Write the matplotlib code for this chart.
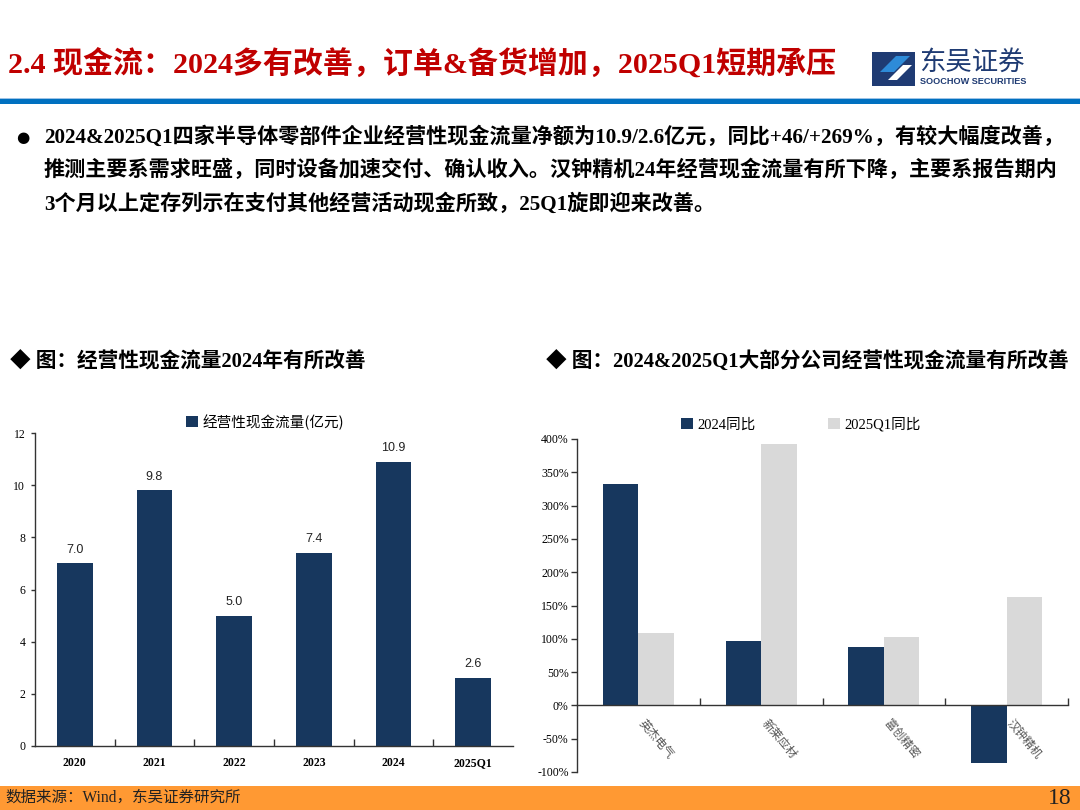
import matplotlib
matplotlib.use("Agg")
import matplotlib.pyplot as plt
from matplotlib.patches import Rectangle, Polygon
import numpy as np

# ---------------- data ----------------
years = ["2020", "2021", "2022", "2023", "2024", "2025Q1"]
cash_flow = [7.0, 9.8, 5.0, 7.4, 10.9, 2.6]

companies = ["英杰电气", "新莱应材", "富创精密", "汉钟精机"]
yoy_2024 = [332, 96, 88, -87]
yoy_2025q1 = [109, 392, 103, 163]

left_yticks = [0, 2, 4, 6, 8, 10, 12]
right_yticks = [-100, -50, 0, 50, 100, 150, 200, 250, 300, 350, 400]

NAVY = "#17375E"
GRAY = "#D9D9D9"
FAM = ["Liberation Serif", "Noto Sans CJK SC"]
CJK = ["Noto Sans CJK SC", "DejaVu Sans"]

plt.rcParams["font.family"] = FAM

W, H = 1080, 810
fig = plt.figure(figsize=(W / 100, H / 100), dpi=100)


def fx(x):
    return x / W


def fy(y):
    return 1 - y / H


# ---------------- header ----------------
fig.text(fx(8), fy(64), "2.4 现金流：2024多有改善，订单&备货增加，2025Q1短期承压",
         color="#C00000", fontsize=21.6, fontweight="bold", va="center", ha="left",
         family=FAM)

# logo
fig.patches.append(Rectangle((fx(872), fy(86)), fx(43), 34 / H, transform=fig.transFigure,
                             facecolor="#1F3B73", edgecolor="none"))
fig.patches.append(Polygon([[fx(880), fy(72)], [fx(896), fy(56)], [fx(910), fy(56)],
                            [fx(894), fy(72)]], closed=True, transform=fig.transFigure,
                           facecolor="#2E8BD8", edgecolor="none"))
fig.patches.append(Polygon([[fx(888), fy(80)], [fx(903), fy(65)], [fx(912), fy(65)],
                            [fx(897), fy(80)]], closed=True, transform=fig.transFigure,
                           facecolor="white", edgecolor="none"))
fig.text(fx(919), fy(62), "东吴证券", color="#1F3B73", fontsize=19, va="center", ha="left",
         family=CJK)
fig.text(fx(920), fy(81), "SOOCHOW SECURITIES", color="#1F3B73", fontsize=6.6,
         fontweight="bold", va="center", ha="left", family=["Liberation Sans"])

# blue rule
fig.patches.append(Rectangle((0, fy(98.5)), 1, 1 / H, transform=fig.transFigure,
                             facecolor="#9DC3E6", edgecolor="none"))
fig.patches.append(Rectangle((0, fy(104)), 1, 5 / H, transform=fig.transFigure,
                             facecolor="#0070C0", edgecolor="none"))

# body text
fig.text(fx(16), fy(137), "●", fontsize=11, va="center", ha="left", family=["DejaVu Sans"])
lines = [
    "2024&2025Q1四家半导体零部件企业经营性现金流量净额为10.9/2.6亿元，同比+46/+269%，有较大幅度改善，",
    "推测主要系需求旺盛，同时设备加速交付、确认收入。汉钟精机24年经营现金流量有所下降，主要系报告期内",
    "3个月以上定存列示在支付其他经营活动现金所致，25Q1旋即迎来改善。",
]
for i, t in enumerate(lines):
    fig.text(fx(44), fy(137 + 33.5 * i), t, fontsize=15.2, fontweight="bold",
             va="center", ha="left", family=FAM)

# subtitles
fig.text(fx(10), fy(362), "◆ 图：经营性现金流量2024年有所改善", fontsize=14.9,
         fontweight="bold", va="center", ha="left", family=FAM)
fig.text(fx(546), fy(362), "◆ 图：2024&2025Q1大部分公司经营性现金流量有所改善", fontsize=14.9,
         fontweight="bold", va="center", ha="left", family=FAM)

# footer
fig.patches.append(Rectangle((0, 0), 1, 24 / H, transform=fig.transFigure,
                             facecolor="#FF9933", edgecolor="none"))
fig.text(fx(5), fy(798), "数据来源：Wind，东吴证券研究所", fontsize=11.2, va="center",
         ha="left", color="#222222", family=FAM)
fig.text(fx(1072), fy(798), "18", fontsize=17, va="center", ha="right", color="#222222",
         family=FAM)

# ---------------- left chart ----------------
axL = fig.add_axes([fx(35), fy(746), 478 / W, 313 / H])
xl = np.arange(len(years))
bars = axL.bar(xl, cash_flow, width=0.45, color=NAVY, zorder=2)
for xi, v in zip(xl, cash_flow):
    axL.text(xi, v + 0.3, f"{v:.1f}", ha="center", va="bottom", fontsize=9,
             family=["Liberation Sans"], color="#222222")
axL.set_xlim(-0.5, len(years) - 0.5)
axL.set_ylim(0, 12)
axL.set_yticks(left_yticks)
axL.set_yticklabels([str(v) for v in left_yticks], fontsize=8.5)
axL.set_xticks(xl)
axL.set_xticklabels(years, fontsize=8.5, fontweight="bold")
axL.set_xticks(np.arange(0.5, len(years) - 0.5, 1), minor=True)
axL.tick_params(axis="x", which="major", length=0, pad=8)
axL.tick_params(axis="x", which="minor", direction="in", length=5, width=1, color="#333333")
axL.tick_params(axis="y", direction="out", length=3, width=1, color="#333333", pad=4)
for s in ["top", "right"]:
    axL.spines[s].set_visible(False)
for s in ["left", "bottom"]:
    axL.spines[s].set_color("#333333")
    axL.spines[s].set_linewidth(1)
axL.legend([bars], ["经营性现金流量(亿元)"], loc="center", bbox_to_anchor=(fx(265), fy(422)),
           bbox_transform=fig.transFigure, frameon=False, handlelength=0.8, handleheight=0.8,
           handletextpad=0.3, prop={"family": CJK, "size": 10.5})

# ---------------- right chart ----------------
axR = fig.add_axes([fx(577), fy(772), 491 / W, 333 / H])
xr = np.arange(len(companies))
bw = 0.29
b1 = axR.bar(xr - bw / 2, yoy_2024, width=bw, color=NAVY, zorder=2)
b2 = axR.bar(xr + bw / 2, yoy_2025q1, width=bw, color=GRAY, zorder=2)
axR.set_xlim(-0.5, len(companies) - 0.5)
axR.set_ylim(-100, 400)
axR.set_yticks(right_yticks)
axR.set_yticklabels([f"{v}%" for v in right_yticks], fontsize=8.5)
axR.set_xticks(xr)
axR.set_xticklabels([])
axR.set_xticks(np.arange(0.5, len(companies) + 0.5, 1), minor=True)
axR.tick_params(axis="x", which="major", length=0)
axR.tick_params(axis="x", which="minor", direction="in", length=5, width=1, color="#333333")
axR.tick_params(axis="y", direction="out", length=4, width=1, color="#333333", pad=2)
for s in ["top", "right"]:
    axR.spines[s].set_visible(False)
axR.spines["bottom"].set_position(("data", 0))
for s in ["left", "bottom"]:
    axR.spines[s].set_color("#333333")
    axR.spines[s].set_linewidth(1)
for xi, name in zip(xr, companies):
    axR.text(xi + 0.02, -24, name, rotation=-50, rotation_mode="anchor", ha="left", va="center",
             fontsize=8.5, color="#555555", family=CJK, zorder=3)
axR.legend([b1, b2], ["2024同比", "2025Q1同比"], loc="center", ncol=2,
           bbox_to_anchor=(fx(801), fy(424)), bbox_transform=fig.transFigure, frameon=False,
           handlelength=0.8, handleheight=0.8, handletextpad=0.3, columnspacing=5.0,
           prop={"family": FAM, "size": 10.5})

fig.savefig("out.png", dpi=100)
